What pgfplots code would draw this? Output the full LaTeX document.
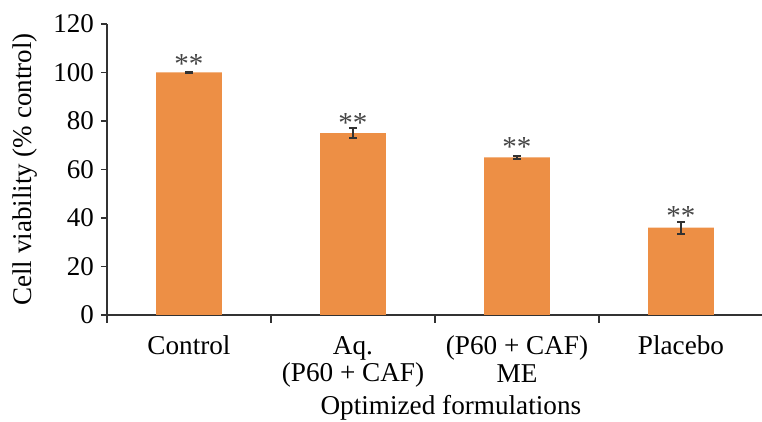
\documentclass[border=0pt]{standalone}
\usepackage{fontspec}
\setmainfont{Liberation Serif}
\usepackage{pgfplots}
\pgfplotsset{compat=1.18}
\definecolor{barorange}{RGB}{237,143,69}
\definecolor{axisgray}{RGB}{50,50,50}
\definecolor{stargray}{RGB}{70,70,70}
\begin{document}
\begin{tikzpicture}[x=1pt,y=1pt]
\begin{axis}[
  at={(0,0)}, anchor=south west,
  scale only axis, width=327.5pt, height=145.5pt,
  xmin=-0.5, xmax=3.494, ymin=0, ymax=120,
  axis x line*=bottom, axis y line*=left,
  axis line style={axisgray, line width=0.75pt},
  every tick/.style={axisgray, line width=0.75pt},
  tick align=outside,
  major tick length=3pt, minor tick length=4pt,
  ytick={0,20,...,120},
  xtick={0,1,2,3},
  xticklabels={Control, {Aq.\\(P60 + CAF)}, {(P60 + CAF)\\ME}, Placebo},
  major x tick style={draw=none},
  minor xtick={-0.5,0.5,1.5,2.5},
  xticklabel style={align=center, font=\fontsize{13.6}{13.6}\selectfont, text=black, yshift=-4pt},
  yticklabel style={font=\fontsize{13.5}{14}\selectfont, text=black},
  /pgf/number format/assume math mode=true,
  xlabel={Optimized formulations},
  ylabel={Cell viability (\% control)},
  xlabel style={at={(axis description cs:0.525,-0.318)}, anchor=center, font=\fontsize{13.6}{14}\selectfont},
  ylabel style={at={(axis description cs:-0.125,0.5)}, anchor=center, font=\fontsize{13.5}{14}\selectfont},
  clip=false,
]
\addplot[ybar, bar width=0.4, fill=barorange, draw=none,
  error bars/.cd, y dir=both, y explicit,
  error bar style={axisgray, line width=1pt},
  error mark options={rotate=90, mark size=2pt, line width=1pt, axisgray}]
  coordinates {(0,100) +- (0,0.3) (1,75) +- (0,2.0) (2,65) +- (0,0.5) (3,36) +- (0,2.4)};
\addplot[draw=none, mark=none, nodes near coords={**},
  nodes near coords style={anchor=base, text=stargray, font=\fontsize{14.5}{15}\selectfont}]
  coordinates {(0,99.6) (1,75.2) (2,65.4) (3,37.0)};
\end{axis}
\pgfresetboundingbox
\path[use as bounding box] (-53.5,-53.5) rectangle (327.5,157.5);
\end{tikzpicture}
\end{document}
